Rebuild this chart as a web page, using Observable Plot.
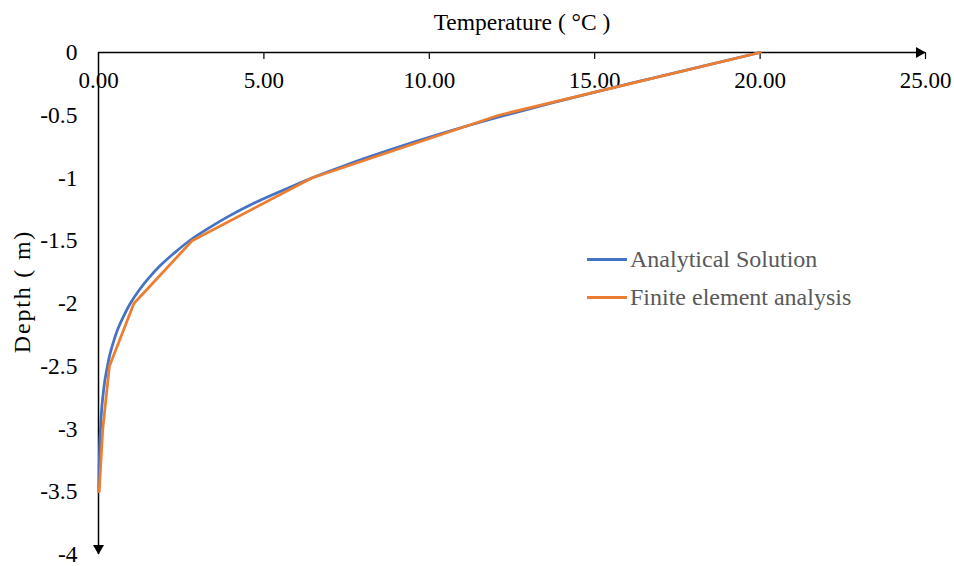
<!DOCTYPE html>
<html><head><meta charset="utf-8">
<script src="https://cdn.jsdelivr.net/npm/d3@7"></script>
<script src="https://cdn.jsdelivr.net/npm/@observablehq/plot@0.6"></script>
<style>
body{margin:0;background:#fff;}
#wrap{position:relative;width:954px;height:566px;}
.legend{position:absolute;left:587px;top:240px;font-family:"Liberation Serif","Times New Roman",serif;font-size:24px;color:#595959;}
.legend .row{display:flex;align-items:center;height:38px;white-space:nowrap;}
.legend .sw{display:inline-block;width:40px;height:3px;margin-right:3px;}
</style></head><body><div id="wrap"></div>
<script>
const depthsAnalytical = [0,-0.1,-0.2,-0.3,-0.4,-0.5,-0.6,-0.7,-0.8,-0.9,-1.0,-1.1,-1.2,-1.3,-1.4,-1.5,-1.6,-1.7,-1.8,-1.9,-2.0,-2.1,-2.2,-2.3,-2.4,-2.5,-2.6,-2.7,-2.8,-2.9,-3.0,-3.1,-3.2,-3.3,-3.4,-3.5];
const tempAnalytical = [20.00,18.40,16.82,15.25,13.74,12.30,10.95,9.70,8.54,7.45,6.45,5.56,4.71,3.97,3.33,2.75,2.28,1.86,1.51,1.21,0.96,0.76,0.59,0.46,0.35,0.27,0.20,0.15,0.11,0.08,0.06,0.04,0.03,0.02,0.015,0.01];
const depthsFEA = [0,-0.5,-1.0,-1.5,-2.0,-2.5,-3.0,-3.5];
const tempFEA = [20.0,12.1,6.45,2.83,1.07,0.33,0.13,0.02];
const xTicks = [0,5,10,15,20,25];
const yTicks = [0,-0.5,-1,-1.5,-2,-2.5,-3,-3.5,-4];
const seriesNames = ["Analytical Solution","Finite element analysis"];
const seriesColors = ["#4472C4","#ED7D31"];
const xTitle = "Temperature ( °C )";
const yTitle = "Depth ( m)";

const analytical = depthsAnalytical.map((d,i)=>({depth:d,temp:tempAnalytical[i]}));
const fea = depthsFEA.map((d,i)=>({depth:d,temp:tempFEA[i]}));
const tickShape = {draw(ctx,l){ctx.moveTo(0,0);ctx.lineTo(0,-l);}};

const chart = Plot.plot({
  width:954, height:566,
  marginLeft:98, marginRight:29, marginTop:52, marginBottom:12,
  style:{fontFamily:"'Liberation Serif','Times New Roman',serif", fontSize:"23px", color:"#000", background:"#fff"},
  x:{domain:[0,25], axis:null, label:null},
  y:{domain:[-4,0], label:null},
  marks:[
    Plot.axisY(yTicks,{anchor:"left", tickSize:0, tickPadding:21, tickFormat:d=>String(d), label:null, fontSize:23.5}),
    Plot.text(xTicks,{x:d=>d, y:0, text:d=>d.toFixed(2), dy:28, fontSize:23}),
    Plot.vector(xTicks.slice(1),{x:d=>d, y:0, length:6, rotate:180, anchor:"start", shape:tickShape, stroke:"#000", strokeWidth:1.2}),
    Plot.ruleY([0],{x1:0, x2:25, stroke:"#000", strokeWidth:1.5}),
    Plot.ruleX([0],{y1:0, y2:-4, stroke:"#000", strokeWidth:1.5}),
    Plot.dot([25],{x:d=>d, y:0, symbol:"triangle", rotate:90, r:4.1, fill:"#000", stroke:null, dx:-6.3}),
    Plot.dot([-4],{x:0, y:d=>d, symbol:"triangle", rotate:180, r:4.1, fill:"#000", stroke:null, dy:-6.3}),
    Plot.line(analytical,{x:"temp", y:"depth", stroke:seriesColors[0], strokeWidth:2.75, curve:"monotone-y"}),
    Plot.line(fea,{x:"temp", y:"depth", stroke:seriesColors[1], strokeWidth:2.75}),
    Plot.text([xTitle],{frameAnchor:"top", text:d=>d, dy:-30, dx:10, lineAnchor:"middle", textAnchor:"middle", fontSize:23.5}),
    Plot.text([yTitle],{frameAnchor:"left", text:d=>d, rotate:-90, dx:-76, dy:-12, lineAnchor:"middle", textAnchor:"middle", fontSize:24})
  ]
});
const wrap = document.getElementById("wrap");
wrap.appendChild(chart);
d3.select(chart).selectAll("text").filter(function(){return this.textContent === yTitle;}).style("letter-spacing","1.8px");
const legend = document.createElement("div");
legend.className = "legend";
seriesNames.forEach((name,i)=>{
  const row = document.createElement("div");
  row.className = "row";
  const sw = document.createElement("span");
  sw.className = "sw";
  sw.style.background = seriesColors[i];
  row.appendChild(sw);
  row.appendChild(document.createTextNode(name));
  legend.appendChild(row);
});
wrap.appendChild(legend);
</script>
</body></html>
